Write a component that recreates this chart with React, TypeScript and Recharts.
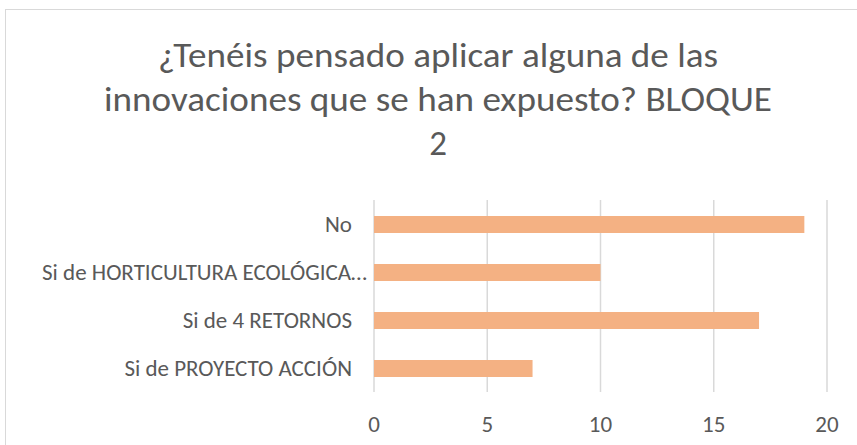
import { BarChart, Bar, XAxis, YAxis, ReferenceLine } from 'recharts';

const titleLines = [
  '¿Tenéis pensado aplicar alguna de las',
  'innovaciones que se han expuesto? BLOQUE',
  '2',
];
const titleWidths = [560, 668, 0];
const categories = [
  'No',
  'Si de HORTICULTURA ECOLÓGICA…',
  'Si de 4 RETORNOS',
  'Si de PROYECTO ACCIÓN',
];
const responses = [19, 10, 17, 7];
const xTicks = [0, 5, 10, 15, 20];

const data = categories.map((name, i) => ({ name, value: responses[i] }));

const FONT = 'Carlito, Calibri, Lato, sans-serif';
const TEXT = '#595959';

// Excel lets the truncated label's ellipsis run past the right edge of the labels
function CategoryTick({ x, y, payload }: any) {
  const label: string = payload.value;
  const overflow = label.endsWith('…') ? 15 : 0;
  return (
    <text
      x={x + overflow}
      y={y}
      dy="0.355em"
      textAnchor="end"
      fill={TEXT}
      fontSize={23}
      fontFamily={FONT}
    >
      {label}
    </text>
  );
}

export default function App() {
  return (
    <div
      style={{
        position: 'absolute',
        left: 0,
        top: 0,
        width: 857,
        height: 445,
        overflow: 'hidden',
        background: '#fff',
        fontFamily: FONT,
      }}
    >
      <div
        style={{
          position: 'absolute',
          left: 5,
          top: 9,
          width: 900,
          height: 500,
          border: '1.5px solid #d9d9d9',
        }}
      />
      <svg width={857} height={445} style={{ position: 'absolute', left: 0, top: 0 }}>
        {titleLines.map((line, i) => (
          <text
            key={i}
            x={438}
            y={67 + i * 44}
            textAnchor="middle"
            fill={TEXT}
            fontSize={35}
            fontFamily={FONT}
            textLength={titleWidths[i] || undefined}
            lengthAdjust={titleWidths[i] ? 'spacingAndGlyphs' : undefined}
          >
            {line}
          </text>
        ))}
      </svg>
      <div style={{ position: 'absolute', left: 0, top: 0 }}>
        <BarChart
          width={857}
          height={445}
          data={data}
          layout="vertical"
          margin={{ top: 200, right: 30, bottom: 0, left: 0 }}
        >
          {xTicks.map((t) => (
            <ReferenceLine key={t} x={t} stroke="#d9d9d9" strokeWidth={1.5} zIndex={-100} />
          ))}
          <XAxis
            type="number"
            domain={[0, 20]}
            ticks={xTicks}
            axisLine={false}
            tickLine={false}
            tickSize={0}
            tickMargin={24}
            height={53}
            tick={{ fill: TEXT, fontSize: 23, fontFamily: FONT }}
          />
          <YAxis
            type="category"
            dataKey="name"
            width={374}
            axisLine={false}
            tickLine={false}
            tickSize={0}
            tickMargin={22}
            interval={0}
            tick={<CategoryTick />}
          />
          <Bar dataKey="value" fill="#f4b183" barSize={17} isAnimationActive={false} />
        </BarChart>
      </div>
    </div>
  );
}
